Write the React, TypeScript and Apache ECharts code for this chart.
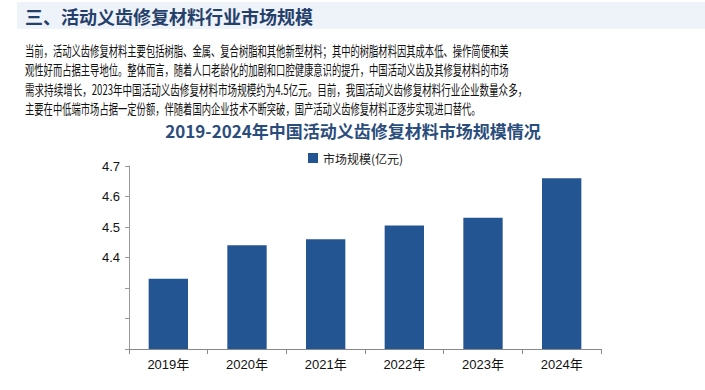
import React, { useEffect, useRef } from "react";
import * as echarts from "echarts";

const categories = ["2019年", "2020年", "2021年", "2022年", "2023年", "2024年"];
const marketSize = [4.33, 4.44, 4.46, 4.505, 4.53, 4.66];
const seriesName = "市场规模(亿元)";
const pageTitle = "三、活动义齿修复材料行业市场规模";
const chartTitle = "2019-2024年中国活动义齿修复材料市场规模情况";
const paragraphLines = [
  "当前，活动义齿修复材料主要包括树脂、金属、复合树脂和其他新型材料；其中的树脂材料因其成本低、操作简便和美",
  "观性好而占据主导地位。整体而言，随着人口老龄化的加剧和口腔健康意识的提升，中国活动义齿及其修复材料的市场",
  "需求持续增长，2023年中国活动义齿修复材料市场规模约为4.5亿元。目前，我国活动义齿修复材料行业企业数量众多，",
  "主要在中低端市场占据一定份额，伴随着国内企业技术不断突破，国产活动义齿修复材料正逐步实现进口替代。",
];

export default function App() {
  const ref = useRef<HTMLDivElement>(null);
  useEffect(() => {
    if (!ref.current) return;
    const chart = echarts.init(ref.current, null, { renderer: "svg" });
    const lineYs = [50, 69, 88.5, 108];
    const lineScales = [0.665, 0.665, 0.683, 0.665];
    const cjk = '"Noto Sans CJK SC", "Noto Sans", sans-serif';
    chart.setOption({
      animation: false,
      backgroundColor: "#ffffff",
      graphic: [
        {
          type: "rect",
          left: 17,
          top: 2,
          shape: { width: 688, height: 27 },
          style: { fill: "#eef2f9" },
          silent: true,
        },
        {
          type: "text",
          x: 25,
          y: 16,
          style: {
            text: pageTitle,
            fontSize: 18,
            fontWeight: "bold",
            fontFamily: cjk,
            fill: "#253f6b",
            textVerticalAlign: "middle",
          },
        },
        ...paragraphLines.map((t, i) => ({
          type: "text",
          x: 25,
          y: lineYs[i],
          scaleX: lineScales[i],
          style: {
            text: t,
            fontSize: 14,
            fontFamily: cjk,
            fill: "#111111",
            textVerticalAlign: "middle",
          },
        })),
        {
          type: "text",
          x: 353,
          y: 130,
          style: {
            text: chartTitle,
            fontSize: 17,
            fontWeight: "bold",
            fontFamily: cjk,
            fill: "#2a4d7c",
            textAlign: "center",
            textVerticalAlign: "middle",
          },
        },
      ],
      legend: {
        data: [seriesName],
        top: 152,
        left: 308,
        padding: 0,
        icon: "rect",
        itemWidth: 10,
        itemHeight: 10,
        itemGap: 5,
        textStyle: { fontSize: 12, color: "#222", fontFamily: cjk },
      },
      grid: { left: 129, right: 104, top: 166, bottom: 41, containLabel: false },
      xAxis: {
        type: "category",
        data: categories,
        axisLine: { lineStyle: { color: "#888", width: 1 } },
        axisTick: { show: true, length: 5, lineStyle: { color: "#888" } },
        axisLabel: {
          color: "#111",
          fontSize: 13,
          margin: 9,
          fontFamily: '"Liberation Sans", "Noto Sans CJK SC", sans-serif',
        },
      },
      yAxis: {
        type: "value",
        min: 4.1,
        max: 4.7,
        interval: 0.1,
        axisLine: { show: true, lineStyle: { color: "#999", width: 1 } },
        axisTick: { show: true, length: 4, lineStyle: { color: "#999" } },
        splitLine: { show: false },
        axisLabel: {
          color: "#111",
          fontSize: 13,
          margin: 9,
          fontFamily: '"Liberation Sans", sans-serif',
          formatter: (v: number) => (v < 4.35 ? "" : v.toFixed(1)),
        },
      },
      series: [
        {
          name: seriesName,
          type: "bar",
          data: marketSize,
          barWidth: "50%",
          itemStyle: { color: "#235593" },
        },
      ],
    });
    return () => chart.dispose();
  }, []);
  return (
    <div
      ref={ref}
      style={{ position: "fixed", left: 0, top: 0, width: 705, height: 390 }}
    />
  );
}
